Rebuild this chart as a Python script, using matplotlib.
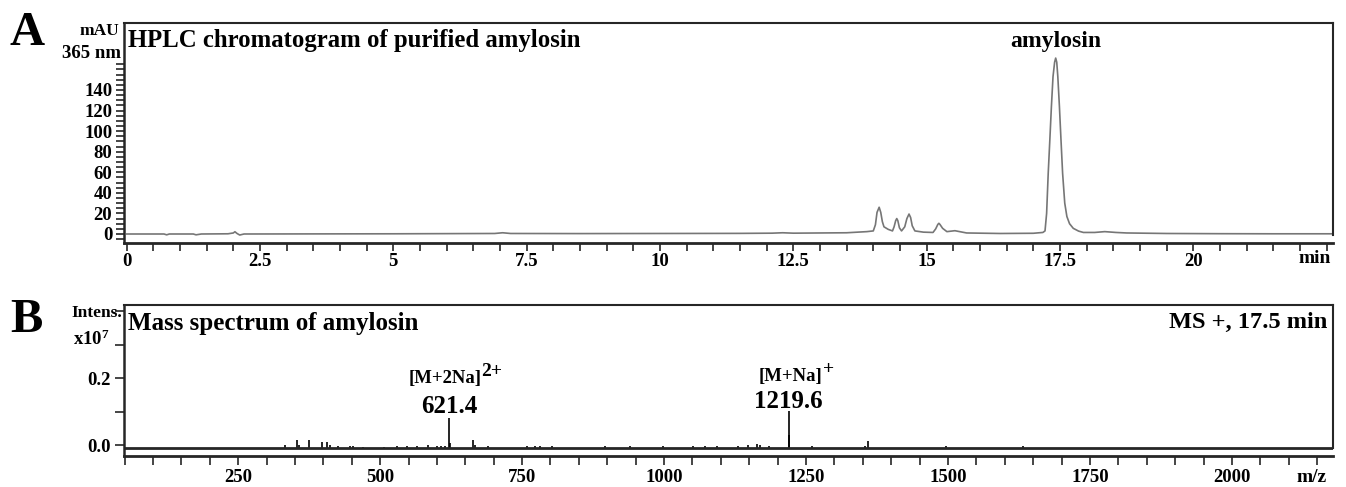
import matplotlib.pyplot as plt
from matplotlib.ticker import FixedLocator, MultipleLocator

# ---- data ----

# A: HPLC trace, retention time (min) and absorbance at 365 nm (mAU)
rt = [0.0, 0.7, 0.75, 0.8, 1.25, 1.3, 1.4, 1.9, 2.0, 2.03, 2.07, 2.12, 2.2,
      3.5, 5.0, 6.9, 7.05, 7.2, 8.5, 10.0, 11.5, 12.1, 12.3, 12.5, 13.0,
      13.5, 13.88, 14.0, 14.04, 14.07, 14.11, 14.14, 14.17, 14.2, 14.28,
      14.36, 14.39, 14.42, 14.44, 14.46, 14.49, 14.53, 14.59, 14.63, 14.67,
      14.70, 14.73, 14.78, 14.94, 15.12, 15.17, 15.21, 15.23, 15.25, 15.3,
      15.38, 15.53, 15.75, 16.38, 17.0, 17.18, 17.22, 17.25, 17.28, 17.31,
      17.34, 17.37, 17.4, 17.42, 17.44, 17.46, 17.49, 17.52, 17.55, 17.59,
      17.63, 17.68, 17.75, 17.85, 17.94, 18.15, 18.34, 18.55, 18.75, 19.5,
      20.5, 21.5, 22.62]
mau = [0.0, 0.0, -0.8, 0.0, 0.0, -0.8, 0.0, 0.2, 1.0, 2.2, 0.5, -1.0, 0.0,
       0.1, 0.2, 0.5, 1.2, 0.5, 0.4, 0.5, 0.6, 0.8, 1.2, 0.8, 1.0,
       1.2, 2.3, 3.0, 9.0, 21.0, 26.0, 21.0, 12.0, 7.0, 4.5,
       3.0, 7.0, 13.0, 15.0, 13.0, 6.0, 3.0, 7.0, 15.0, 19.4,
       16.0, 8.0, 3.0, 1.8, 1.5, 5.0, 9.3, 10.4, 9.3, 5.5,
       2.3, 3.2, 1.0, 0.5, 0.7, 1.5, 3.0, 20.0, 59.0, 91.0,
       124.0, 153.0, 167.0, 171.0, 167.0, 153.0, 124.0, 91.0, 59.0, 30.0,
       17.0, 10.0, 5.5, 2.8, 1.5, 1.5, 2.3, 1.5, 1.0, 0.5,
       0.3, 0.2, 0.2]

# B: mass spectrum, m/z and peak height above baseline (x10^7)
spec_mz = [333, 353.3, 358, 375.5, 397, 407, 412, 426.6, 447, 452, 470.6,
           506, 529, 547, 564.6, 585, 600, 607, 614, 621.4, 622.4, 664, 667,
           690.6, 758, 773, 782, 802, 896, 940, 999, 1051.6, 1072, 1093,
           1131, 1148, 1163, 1169, 1184, 1219.6, 1220.6, 1260, 1354, 1359.7,
           1496.5, 1632]
spec_h = [0.010, 0.025, 0.009, 0.025, 0.018, 0.018, 0.009, 0.006, 0.006,
          0.006, 0.004, 0.004, 0.006, 0.006, 0.007, 0.009, 0.007, 0.007,
          0.007, 0.090, 0.015, 0.023, 0.009, 0.006, 0.006, 0.006, 0.006,
          0.006, 0.006, 0.006, 0.006, 0.006, 0.007, 0.006, 0.006, 0.009,
          0.012, 0.009, 0.006, 0.110, 0.040, 0.007, 0.006, 0.020, 0.006,
          0.007]

a_xticks = [0, 2.5, 5, 7.5, 10, 12.5, 15, 17.5, 20]
a_xlabels = ["0", "2.5", "5", "7.5", "10", "12.5", "15", "17.5", "20"]
a_yticks = [0, 20, 40, 60, 80, 100, 120, 140]
b_xticks = [250, 500, 750, 1000, 1250, 1500, 1750, 2000]
b_yticks = [0.0, 0.2]
b_ylabels = ["0.0", "0.2"]

plt.rcParams['font.family'] = 'Liberation Serif'
plt.rcParams['font.weight'] = 'bold'
plt.rcParams['mathtext.fontset'] = 'custom'
plt.rcParams['mathtext.rm'] = 'Liberation Serif:bold'
plt.rcParams['mathtext.bf'] = 'Liberation Serif:bold'
plt.rcParams['mathtext.it'] = 'Liberation Serif:bold'
plt.rcParams['mathtext.default'] = 'rm'

W, H = 1346, 487


def px(x, y):
    # pixel position in the picture -> figure fraction
    return x / W, 1 - y / H


fig = plt.figure(figsize=(W / 100, H / 100), dpi=100)
axA = fig.add_axes([124 / W, 1 - 243 / H, (1333 - 124) / W, (243 - 23) / H])
axB = fig.add_axes([124 / W, 1 - 456 / H, (1333 - 124) / W, (456 - 305) / H])

frame = '#262626'

# ---------------- panel A ----------------
axA.plot(rt, mau, color='#767676', lw=1.2)
axA.set_xlim(-0.05, 22.62)
axA.set_ylim(-8.75, 205.1)
axA.xaxis.set_major_locator(FixedLocator(a_xticks))
axA.set_xticklabels(a_xlabels)
axA.xaxis.set_minor_locator(MultipleLocator(0.5))
axA.yaxis.set_major_locator(FixedLocator(a_yticks))
axA.yaxis.set_minor_locator(FixedLocator(list(range(-5, 170, 5))))
axA.tick_params(which='both', direction='out', length=5.5, width=1.2,
                color=frame, labelsize=13.5, pad=1.5)
axA.tick_params(axis='y', pad=3)
axA.spines['top'].set_linewidth(1.5)
axA.spines['left'].set_linewidth(1.8)
axA.spines['bottom'].set_linewidth(2.0)
for s in axA.spines.values():
    s.set_color(frame)
axA.spines['right'].set_visible(False)
axA.plot([1, 1], [0.036, 1], transform=axA.transAxes, color=frame, lw=1.5,
         clip_on=False)

i_top = mau.index(max(mau))
axA.text(rt[i_top], 186.7, "amylosin", ha='center', va='center', fontsize=17)

fig.text(*px(128, 47), "HPLC chromatogram of purified amylosin",
         fontsize=17.8, va='baseline')
fig.text(*px(10, 45), "A", fontsize=35, va='baseline')
fig.text(*px(119, 35), "mAU", fontsize=12.5, ha='right', va='baseline')
fig.text(*px(121, 58), "365 nm", fontsize=13.5, ha='right', va='baseline')
fig.text(*px(1331, 263), "min", fontsize=14, ha='right', va='baseline')

# ---------------- panel B ----------------
base = -0.009
axB.vlines(spec_mz, base, [base + h for h in spec_h], color='black', lw=1.2)
axB.axhline(base, color=frame, lw=2.0)
axB.set_xlim(49, 2178)
axB.set_ylim(-0.0328, 0.418)
axB.xaxis.set_major_locator(FixedLocator(b_xticks))
axB.xaxis.set_minor_locator(MultipleLocator(50))
axB.yaxis.set_major_locator(FixedLocator(b_yticks))
axB.set_yticklabels(b_ylabels)
axB.yaxis.set_minor_locator(FixedLocator([0.1, 0.3, 0.4]))
axB.tick_params(which='both', direction='out', length=6.5, width=1.2,
                color=frame, labelsize=13.5, pad=3)
axB.spines['top'].set_linewidth(1.5)
axB.spines['left'].set_linewidth(1.8)
axB.spines['bottom'].set_linewidth(2.0)
for s in axB.spines.values():
    s.set_color(frame)
axB.spines['right'].set_visible(False)
axB.plot([1, 1], [0.053, 1], transform=axB.transAxes, color=frame, lw=1.5,
         clip_on=False)

# ion labels: name, raised charge, and m/z value above each stick
ions = [("[M+2Na]", "2+", 621.4, 0.186, -4, 32, 0.0955),
        ("[M+Na]", "+", 1219.6, 0.192, 2, 34, 0.110)]
for name, charge, mz, y, dx, dxs, ynum in ions:
    axB.annotate(name, (mz, y), xytext=(dx, 0), textcoords='offset pixels',
                 ha='center', va='baseline', fontsize=13.5)
    axB.annotate(charge, (mz, y), xytext=(dxs, 7), textcoords='offset pixels',
                 ha='left', va='baseline', fontsize=14)
    axB.text(mz, ynum, f"{mz:.1f}", ha='center', va='baseline', fontsize=18)

fig.text(*px(128, 330), "Mass spectrum of amylosin", fontsize=18,
         va='baseline')
fig.text(*px(1327, 328), "MS +, 17.5 min", fontsize=17.6, ha='right',
         va='baseline')
fig.text(*px(10, 332), "B", fontsize=35, va='baseline')
fig.text(*px(122, 317), "Intens.", fontsize=12.5, ha='right', va='baseline')
fig.text(*px(110, 345), "x10$^7$", fontsize=13.5, ha='right', va='baseline')
fig.text(*px(1327, 482), "m/z", fontsize=14, ha='right', va='baseline')

fig.savefig("out.png", dpi=100)
